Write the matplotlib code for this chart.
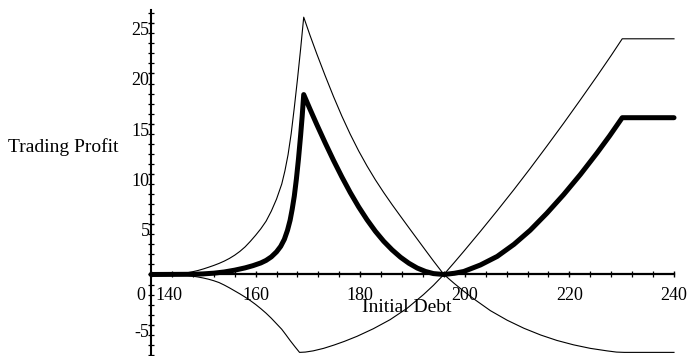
import matplotlib
matplotlib.use("Agg")
import matplotlib.pyplot as plt
from matplotlib.ticker import MultipleLocator, FixedLocator
from matplotlib.transforms import offset_copy

plt.rcParams['font.family'] = ['Liberation Serif', 'DejaVu Serif']

# thin curve with the tall peak near 169
debt_a = [140, 145, 146, 147, 148, 149, 150, 151, 152, 153, 154, 155, 156, 157, 158,
          159, 160, 161, 162, 163, 164, 165, 165.6, 166.2, 166.8, 167.4, 168.0, 168.6,
          169.2, 170.4, 171.7, 173.3, 174.9, 176.5, 178.1, 179.7, 181.3, 182.9, 184.5,
          186.1, 187.7, 189.3, 190.9, 192.5, 194, 196, 198, 200, 201.7, 204.9, 208.1,
          211.3, 214.5, 217.6, 220.8, 224, 227.2, 229, 230.5, 240]
profit_a = [0, 0.05, 0.1, 0.18, 0.28, 0.4, 0.55, 0.72, 0.9, 1.1, 1.33, 1.6, 1.92, 2.3, 2.75,
            3.3, 3.9, 4.55, 5.3, 6.3, 7.5, 9.0, 10.3, 11.9, 14.0, 16.6, 19.4, 22.4,
            25.6, 23.8, 21.95, 19.78, 17.7, 15.75, 13.95, 12.3, 10.8, 9.42, 8.15,
            6.95, 5.8, 4.66, 3.53, 2.4, 1.35, 0, -0.9, -1.75, -2.42, -3.6, -4.55,
            -5.35, -6.02, -6.56, -7.0, -7.35, -7.6, -7.72, -7.75, -7.75]

# thin curve with the dip near 168
debt_b = [140, 145, 146, 147, 148, 149, 150, 151, 152, 153, 154, 155, 156, 157, 158,
          159, 160, 161, 162, 163, 164, 165, 165.8, 166.6, 167.5, 168.4, 169.5, 171, 173,
          175, 177, 179.4, 182.5, 185.7, 189, 192.1, 194, 196, 198, 199.8, 203, 206.2,
          209.4, 212.5, 215.7, 218.9, 222.1, 225.3, 228, 230.1, 240]
profit_b = [0, -0.02, -0.05, -0.1, -0.17, -0.25, -0.35, -0.47, -0.62, -0.8, -1.05, -1.33,
            -1.63, -1.93, -2.25, -2.6, -2.98, -3.4, -3.85, -4.35, -4.9, -5.45, -6.0, -6.57,
            -7.17, -7.75, -7.72, -7.6, -7.35, -7.02, -6.65, -6.15, -5.4, -4.5, -3.35, -2.0,
            -1.08, 0, 1.2, 2.3, 4.3, 6.35, 8.45, 10.55, 12.78, 15.05, 17.38, 19.75,
            21.8, 23.45, 23.45]

# thick curve
debt_c = [140, 148, 150, 152, 154, 156, 158, 159.5, 161, 162, 163, 164, 164.8, 165.5,
          166.1, 166.6, 167.0, 167.4, 167.8, 168.2, 168.6, 168.9, 169.2, 170.4, 171.7,
          173.3, 174.9, 176.5, 178.1, 179.7, 181.3, 182.9, 184.5, 186.1, 187.7, 189.3,
          190.9, 192.5, 194, 196, 198, 199.8, 203, 206.2, 209.4, 212.5, 215.7, 218.9,
          222.1, 225.3, 227.7, 230.1, 240]
profit_c = [0, 0.02, 0.06, 0.13, 0.25, 0.43, 0.66, 0.88, 1.15, 1.4, 1.75, 2.25, 2.8, 3.5,
            4.4, 5.4, 6.5, 7.8, 9.5, 11.5, 13.8, 15.7, 17.9, 16.45, 14.92,
            13.1, 11.35, 9.7, 8.15, 6.73, 5.45, 4.3, 3.3, 2.45, 1.72, 1.12,
            0.64, 0.3, 0.09, 0, 0.12, 0.3, 0.95, 1.8, 3.0, 4.4, 6.1, 7.95,
            9.95, 12.1, 13.8, 15.6, 15.6]

x_ticks = [140, 160, 180, 200, 220, 240]
y_ticks = [-5, 5, 10, 15, 20, 25]
y_minor = list(range(-8, 27))

W, H = 689, 356
fig = plt.figure(figsize=(W / 100, H / 100), dpi=100)
ax = fig.add_axes([151 / W, 0, (674 - 151) / W, 1])
ax.set_xlim(140, 240)
ax.set_ylim(-8.11, 27.31)

ax.plot(debt_a, profit_a, color='black', lw=0.8, clip_on=False)
ax.plot(debt_b, profit_b, color='black', lw=0.8, clip_on=False)
ax.plot(debt_c, profit_c, color='black', lw=3.6, clip_on=False,
        solid_capstyle='round', solid_joinstyle='round')

# axes crossing at (140, 0)
for side in ['top', 'right']:
    ax.spines[side].set_visible(False)
ax.spines['bottom'].set_position(('data', 0))
ax.spines['left'].set_position(('data', 140))
ax.spines['left'].set_bounds(-8.11, 26.3)
ax.spines['bottom'].set_linewidth(1.6)
ax.spines['left'].set_linewidth(1.5)

ax.xaxis.set_major_locator(MultipleLocator(20))
ax.xaxis.set_minor_locator(MultipleLocator(4))
ax.yaxis.set_major_locator(MultipleLocator(5))
ax.yaxis.set_minor_locator(FixedLocator(y_minor))
ax.tick_params(which='major', direction='inout', length=5, width=1.0,
               labelbottom=False, labelleft=False)
ax.tick_params(which='minor', direction='inout', length=4, width=0.9)

# tick labels placed like the original (pixel offsets)
for x in x_ticks:
    if x == 140:
        tr = offset_copy(ax.transData, fig=fig, x=4, y=-25.5, units='dots')
        ax.text(x, 0, str(x), transform=tr, ha='left', va='baseline', fontsize=13)
    else:
        tr = offset_copy(ax.transData, fig=fig, x=0, y=-25.5, units='dots')
        ax.text(x, 0, str(x), transform=tr, ha='center', va='baseline', fontsize=13)
tr = offset_copy(ax.transData, fig=fig, x=-6, y=-25.5, units='dots')
ax.text(140, 0, '0', transform=tr, ha='right', va='baseline', fontsize=13)

for y in y_ticks:
    tr = offset_copy(ax.transData, fig=fig, x=-1.5, y=-12, units='dots')
    ax.text(140, y, str(y), transform=tr, ha='right', va='baseline', fontsize=13)

fig.text(8 / W, 1 - 152 / H, 'Trading Profit', ha='left', va='baseline', fontsize=14)
fig.text(362 / W, 1 - 312 / H, 'Initial Debt', ha='left', va='baseline', fontsize=14)

fig.savefig('out.png', dpi=100)
